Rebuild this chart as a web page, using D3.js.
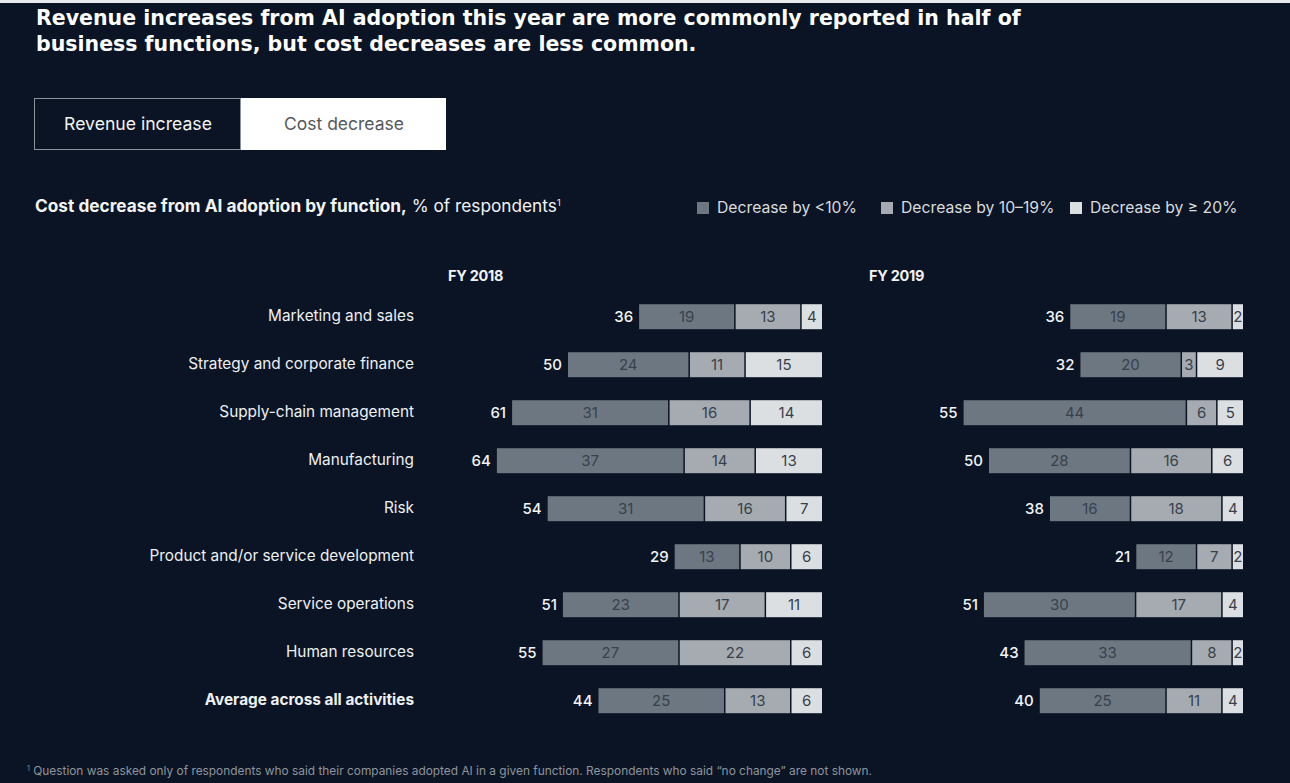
<!DOCTYPE html>
<html>
<head>
<meta charset="utf-8">
<script src="https://cdn.jsdelivr.net/npm/d3@7"></script>
<style>
  html, body { margin: 0; padding: 0; background: #0a1424; }
  svg { display: block; }
</style>
</head>
<body>
<svg id="chart" width="1290" height="783"></svg>
<script>
// ---- data ----
const categories = [
  "Marketing and sales",
  "Strategy and corporate finance",
  "Supply-chain management",
  "Manufacturing",
  "Risk",
  "Product and/or service development",
  "Service operations",
  "Human resources",
  "Average across all activities"
];
const years = ["FY 2018", "FY 2019"];
const seriesNames = ["Decrease by <10%", "Decrease by 10\u201319%", "Decrease by \u2265 20%"];

const totals2018      = [36, 50, 61, 64, 54, 29, 51, 55, 44];
const under10_2018    = [19, 24, 31, 37, 31, 13, 23, 27, 25];
const from10to19_2018 = [13, 11, 16, 14, 16, 10, 17, 22, 13];
const over20_2018     = [4, 15, 14, 13, 7, 6, 11, 6, 6];

const totals2019      = [36, 32, 55, 50, 38, 21, 51, 43, 40];
const under10_2019    = [19, 20, 44, 28, 16, 12, 30, 33, 25];
const from10to19_2019 = [13, 3, 6, 16, 18, 7, 17, 8, 11];
const over20_2019     = [2, 9, 5, 6, 4, 2, 4, 2, 4];

// ---- styling ----
const BG = "#0a1424";
const segColors = ["#6c7782", "#a6abb1", "#dcdfe2"];
const SANS = "Inter, 'Liberation Sans', Arial, sans-serif";
const HEAD = "'DejaVu Sans', Verdana, sans-serif";

const svg = d3.select("#chart");
svg.append("rect").attr("width", 1290).attr("height", 783).attr("fill", BG);
// light page edge along the top
svg.append("rect").attr("width", 1290).attr("height", 3).attr("fill", "#e9ecef");

// font size that makes `str` span `target` px
function sizeFor(str, target, weight, family) {
  const probe = svg.append("text").attr("font-family", family || SANS)
    .attr("font-weight", weight || 400).attr("font-size", 20).text(str);
  const w = probe.node().getComputedTextLength();
  probe.remove();
  return +(20 * target / w).toFixed(2);
}

// ---- title ----
const titleSize = sizeFor("Revenue increases from AI adoption this ye", 505, 700, HEAD);
["Revenue increases from AI adoption this year are more commonly reported in half of",
 "business functions, but cost decreases are less common."].forEach((line, i) => {
  svg.append("text").attr("x", 36).attr("y", 25 + i * 26)
    .attr("font-family", HEAD).attr("font-weight", 700).attr("font-size", titleSize)
    .attr("fill", "#ffffff").text(line);
});

// ---- toggle ----
const toggle = svg.append("g");
toggle.append("rect").attr("x", 34.5).attr("y", 98.5).attr("width", 206).attr("height", 51)
  .attr("fill", BG).attr("stroke", "#8d939a").attr("stroke-width", 1);
toggle.append("rect").attr("x", 241).attr("y", 98).attr("width", 205).attr("height", 52)
  .attr("fill", "#ffffff");
toggle.append("text").attr("x", 138).attr("y", 130).attr("text-anchor", "middle")
  .attr("font-family", SANS).attr("font-size", sizeFor("Revenue increase", 148))
  .attr("fill", "#f2f3f4").text("Revenue increase");
toggle.append("text").attr("x", 344).attr("y", 130).attr("text-anchor", "middle")
  .attr("font-family", SANS).attr("font-size", sizeFor("Cost decrease", 120))
  .attr("fill", "#55585c").text("Cost decrease");

// ---- subtitle ----
const subSize = sizeFor("Cost decrease from AI adoption by function,", 372, 700);
const sub = svg.append("text").attr("x", 35).attr("y", 212)
  .attr("font-family", SANS).attr("font-size", subSize).attr("fill", "#f2f3f4");
sub.append("tspan").attr("font-weight", 700).text("Cost decrease from AI adoption by function,");
sub.append("tspan").text(" % of respondents");
sub.append("tspan").attr("font-size", 9).attr("dy", -6).text("1");

// ---- legend ----
const legendSize = sizeFor(seriesNames[0], 140);
const legendX = [697, 881, 1070];
const legend = svg.append("g");
seriesNames.forEach((name, i) => {
  legend.append("rect").attr("x", legendX[i]).attr("y", 202).attr("width", 12).attr("height", 12)
    .attr("fill", segColors[i]);
  legend.append("text").attr("x", legendX[i] + 20).attr("y", 213)
    .attr("font-family", SANS).attr("font-size", legendSize).attr("fill", "#d9dcdf")
    .text(name);
});

// ---- bars ----
const unit = 5.08;              // px per percentage point
const panelRight = [822, 1243]; // right edge of each panel
const rowY = d3.scalePoint().domain(categories).range([316.7, 700.7]);
const BAR_H = 25;
const labelSize = sizeFor("Marketing and sales", 146);

// category labels
svg.append("g").selectAll("text").data(categories).join("text")
  .attr("x", 414).attr("y", d => rowY(d) + 4)
  .attr("text-anchor", "end")
  .attr("font-family", SANS).attr("font-size", labelSize)
  .attr("font-weight", (d, i) => i === categories.length - 1 ? 700 : 400)
  .attr("fill", "#eef0f2")
  .text(d => d);

const panels = [
  { year: years[0], totals: totals2018, parts: [under10_2018, from10to19_2018, over20_2018] },
  { year: years[1], totals: totals2019, parts: [under10_2019, from10to19_2019, over20_2019] }
];

const keys = ["low", "mid", "high"];

panels.forEach((p, pi) => {
  const right = panelRight[pi];
  // reversed scale: 0 sits on the right edge, bars grow leftward
  const x = d3.scaleLinear().domain([0, 80]).range([right, right - 80 * unit]);

  const rows = categories.map((c, i) => ({
    category: c, total: p.totals[i],
    low: p.parts[0][i], mid: p.parts[1][i], high: p.parts[2][i]
  }));

  // stack from the right edge: >=20% first, then 10-19%, then <10%
  const stack = d3.stack().keys(["high", "mid", "low"])(rows);

  const g = svg.append("g");

  g.append("text").attr("x", x(73.6)).attr("y", 281)
    .attr("font-family", SANS).attr("font-weight", 700).attr("font-size", 14.5)
    .attr("letter-spacing", -0.3)
    .attr("fill", "#f2f3f4").text(p.year);

  stack.forEach(layer => {
    const ci = keys.indexOf(layer.key);
    const lg = g.append("g");
    lg.selectAll("rect").data(layer).join("rect")
      .attr("x", d => x(d[1]))
      .attr("y", d => rowY(d.data.category) - BAR_H / 2)
      .attr("width", d => Math.max(0, x(d[0]) - x(d[1]) - (d[0] === 0 ? 0 : 1.5)))
      .attr("height", BAR_H)
      .attr("fill", segColors[ci]);
    lg.selectAll("text").data(layer).join("text")
      .attr("x", d => (x(d[1]) + x(d[0]) - (d[0] === 0 ? 0 : 1.5)) / 2)
      .attr("y", d => rowY(d.data.category) + 5.5)
      .attr("text-anchor", "middle")
      .attr("font-family", SANS).attr("font-size", 15)
      .attr("fill", "#38414b")
      .text(d => d.data[layer.key]);
  });

  // totals to the left of each stacked bar
  const outer = stack[stack.length - 1];
  g.append("g").selectAll("text").data(outer).join("text")
    .attr("x", d => x(d[1]) - 6)
    .attr("y", d => rowY(d.data.category) + 5.5)
    .attr("text-anchor", "end")
    .attr("font-family", SANS).attr("font-size", 15).attr("font-weight", 500)
    .attr("fill", "#f2f3f4")
    .text(d => d.data.total);
});

// ---- footnote ----
const noteText = " Question was asked only of respondents who said their companies adopted AI in a given function. Respondents who said \u201cno change\u201d are not shown.";
const fn = svg.append("text").attr("x", 27).attr("y", 775)
  .attr("font-family", SANS).attr("font-size", sizeFor(noteText, 840)).attr("fill", "#8f959c");
fn.append("tspan").attr("font-size", 7).attr("dy", -4).text("1");
fn.append("tspan").attr("dy", 4).text(noteText);
</script>
</body>
</html>
